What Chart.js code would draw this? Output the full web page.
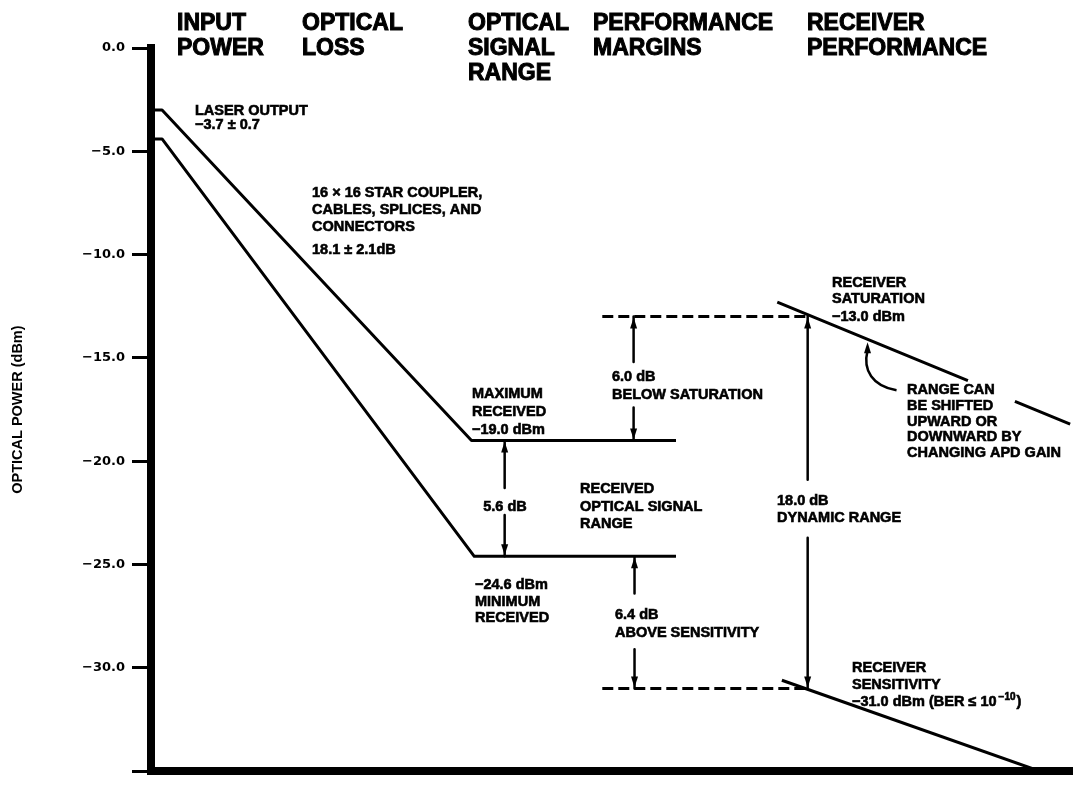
<!DOCTYPE html>
<html>
<head>
<meta charset="utf-8">
<title>Optical power budget</title>
<script src="https://cdn.jsdelivr.net/npm/chart.js@4.4.1/dist/chart.umd.min.js"></script>
<style>
  html, body { margin: 0; padding: 0; background: #fff; }
  #wrap { width: 1079px; height: 786px; }
</style>
</head>
<body>
<div id="wrap"><canvas id="budgetChart" width="1079" height="786"></canvas></div>
<script>
// x runs 0..100 along the link (left axis to right end), y is optical power in dBm
const yTicks = [0, -5, -10, -15, -20, -25, -30, -35];
const yTickLabels = ['0.0', '−5.0', '−10.0', '−15.0', '−20.0', '−25.0', '−30.0', ''];

// laser output minus link loss, best and worst case
const maxPathX = [0, 1.2, 34.8, 57.0];
const maxPathY = [-3.0, -3.0, -19.0, -19.0];
const minPathX = [0, 1.2, 35.1, 57.0];
const minPathY = [-4.4, -4.4, -24.6, -24.6];

// receiver limits (line is broken where the note sits)
const saturationX = [68.0, 88.7, 88.7, 93.8, 99.8];
const saturationY = [-12.3, -16.1, null, -17.1, -18.2];
const sensitivityX = [68.5, 96.5];
const sensitivityY = [-30.6, -35.0];

// dashed reference levels
const marginX = [49.0, 71.3];
const saturationLevel = -13.0;
const sensitivityLevel = -31.0;

// dimension arrows: position, ends, and the gap left for the label
const arrowX = [52.4, 38.4, 52.5, 71.3];
const arrowFrom = [-13.0, -19.0, -24.6, -13.0];
const arrowTo = [-19.0, -24.6, -31.0, -31.0];
const arrowGapTop = [-15.2, -21.3, -26.4, -20.9];
const arrowGapBottom = [-17.4, -22.6, -29.1, -23.7];

// where the "range can be shifted" pointer touches the saturation line
const pointerX = 77.8;

const headers = [
  { x: 177, lines: ['INPUT', 'POWER'] },
  { x: 302, lines: ['OPTICAL', 'LOSS'] },
  { x: 468, lines: ['OPTICAL', 'SIGNAL', 'RANGE'] },
  { x: 593, lines: ['PERFORMANCE', 'MARGINS'] },
  { x: 807, lines: ['RECEIVER', 'PERFORMANCE'] }
];
const headerBaselines = [30, 55, 80];

const notes = [
  { x: 195, ys: [115, 129], lines: ['LASER OUTPUT', '−3.7 ± 0.7'] },
  { x: 312, ys: [197, 214, 231, 254], lines: ['16 × 16 STAR COUPLER,', 'CABLES, SPLICES, AND', 'CONNECTORS', '18.1 ± 2.1dB'] },
  { x: 472, ys: [398, 416, 434], lines: ['MAXIMUM', 'RECEIVED', '−19.0 dBm'] },
  { x: 612, ys: [381, 399], lines: ['6.0 dB', 'BELOW SATURATION'] },
  { x: 505, ys: [511], lines: ['5.6 dB'], align: 'center' },
  { x: 580, ys: [493, 511, 528], lines: ['RECEIVED', 'OPTICAL SIGNAL', 'RANGE'] },
  { x: 475, ys: [589, 606, 622], lines: ['−24.6 dBm', 'MINIMUM', 'RECEIVED'] },
  { x: 615, ys: [619, 637], lines: ['6.4 dB', 'ABOVE SENSITIVITY'] },
  { x: 777, ys: [505, 522], lines: ['18.0 dB', 'DYNAMIC RANGE'] },
  { x: 832, ys: [287, 303, 321], lines: ['RECEIVER', 'SATURATION', '−13.0 dBm'] },
  { x: 907, ys: [394, 410, 426, 441, 457], lines: ['RANGE CAN', 'BE SHIFTED', 'UPWARD OR', 'DOWNWARD BY', 'CHANGING APD GAIN'] },
  { x: 852, ys: [672, 689, 706], lines: ['RECEIVER', 'SENSITIVITY', [{ t: '−31.0 dBm (BER ≤ 10' }, { t: '−10', sup: true }, { t: ')' }]] }
];

const pts = (xs, ys) => xs.map((x, i) => ({ x: x, y: ys[i] }));

const solid = (data, width) => ({
  data: data,
  borderColor: '#000',
  borderWidth: width,
  pointRadius: 0,
  fill: false,
  borderJoinStyle: 'round',
  borderCapStyle: 'butt'
});

const datasets = [
  solid(pts(maxPathX, maxPathY), 3),
  solid(pts(minPathX, minPathY), 3),
  solid(pts(saturationX, saturationY), 3),
  solid(pts(sensitivityX, sensitivityY), 3),
  Object.assign(solid(pts(marginX, [saturationLevel, saturationLevel]), 3), { borderDash: [11, 5] }),
  Object.assign(solid(pts(marginX, [sensitivityLevel, sensitivityLevel]), 3), { borderDash: [11, 5] })
];
arrowX.forEach((x, i) => {
  datasets.push(solid([
    { x: x, y: arrowFrom[i] },
    { x: x, y: arrowGapTop[i] },
    { x: x, y: null },
    { x: x, y: arrowGapBottom[i] },
    { x: x, y: arrowTo[i] }
  ], 2.5));
});

function arrowHead(ctx, x, y, dir) {
  // dir -1 = points up, 1 = points down
  ctx.beginPath();
  ctx.moveTo(x, y);
  ctx.lineTo(x - 3.5, y - dir * 11);
  ctx.lineTo(x + 3.5, y - dir * 11);
  ctx.closePath();
  ctx.fill();
}

function heavyText(ctx, text, x, y, stroke) {
  ctx.fillText(text, x, y);
  ctx.strokeText(text, x, y);
}

const annotationPlugin = {
  id: 'budgetNotes',
  afterDraw(chart) {
    const ctx = chart.ctx;
    const xs = chart.scales.x, ys = chart.scales.y;
    ctx.save();
    ctx.fillStyle = '#000';
    ctx.strokeStyle = '#000';
    ctx.textBaseline = 'alphabetic';

    // arrowheads
    arrowX.forEach((x, i) => {
      const px = xs.getPixelForValue(x);
      arrowHead(ctx, px, ys.getPixelForValue(arrowFrom[i]) + 1, -1);
      arrowHead(ctx, px, ys.getPixelForValue(arrowTo[i]) - 1, 1);
    });

    // curved pointer to the saturation line
    const t = (pointerX - saturationX[0]) / (saturationX[1] - saturationX[0]);
    const tipX = xs.getPixelForValue(pointerX);
    const tipY = ys.getPixelForValue(saturationY[0] + t * (saturationY[1] - saturationY[0])) + 3;
    ctx.lineWidth = 2.5;
    ctx.beginPath();
    ctx.moveTo(tipX, tipY + 8);
    ctx.bezierCurveTo(tipX - 5, tipY + 28, tipX + 5, tipY + 44, tipX + 29, tipY + 48);
    ctx.stroke();
    arrowHead(ctx, tipX, tipY, -1);

    // column headers
    ctx.font = 'bold 23px "Liberation Sans", Arial, sans-serif';
    ctx.lineWidth = 1;
    ctx.textAlign = 'left';
    headers.forEach(h => {
      h.lines.forEach((line, i) => heavyText(ctx, line, h.x, headerBaselines[i]));
    });

    // notes
    const noteFont = 'bold 14.5px "Liberation Sans", Arial, sans-serif';
    const supFont = 'bold 10px "Liberation Sans", Arial, sans-serif';
    ctx.lineWidth = 0.6;
    notes.forEach(n => {
      ctx.textAlign = n.align || 'left';
      n.lines.forEach((line, i) => {
        if (typeof line === 'string') {
          ctx.font = noteFont;
          heavyText(ctx, line, n.x, n.ys[i]);
        } else {
          let cx = n.x;
          ctx.textAlign = 'left';
          line.forEach(seg => {
            ctx.font = seg.sup ? supFont : noteFont;
            heavyText(ctx, seg.t, cx, n.ys[i] - (seg.sup ? 6 : 0));
            cx += ctx.measureText(seg.t).width + (seg.sup ? 1 : 2);
          });
        }
      });
    });
    ctx.restore();
  }
};

new Chart(document.getElementById('budgetChart'), {
  type: 'line',
  data: { datasets: datasets },
  options: {
    responsive: false,
    devicePixelRatio: 1,
    animation: false,
    layout: { padding: { top: 48, right: 7, left: 0, bottom: 0 } },
    plugins: {
      legend: { display: false },
      tooltip: { enabled: false }
    },
    elements: { line: { tension: 0 } },
    scales: {
      x: {
        type: 'linear',
        min: 0,
        max: 100,
        ticks: { display: false },
        grid: { display: false, drawTicks: false },
        border: { display: true, color: '#000', width: 8 },
        afterFit: s => { s.height = 11; }
      },
      y: {
        min: -35,
        max: 0,
        ticks: {
          stepSize: 5,
          autoSkip: false,
          padding: 7,
          color: '#000',
          font: { family: '"DejaVu Sans"', weight: 'bold', size: 13 },
          callback: v => yTickLabels[yTicks.indexOf(v)]
        },
        grid: {
          drawOnChartArea: false,
          drawTicks: true,
          tickLength: 19,
          tickWidth: 3,
          tickColor: '#000'
        },
        border: { display: true, color: '#000', width: 8 },
        title: {
          display: true,
          text: 'OPTICAL POWER (dBm)',
          color: '#000',
          font: { family: '"Liberation Sans"', weight: 'bold', size: 14.5 },
          padding: { top: 9, bottom: 0 }
        },
        afterFit: s => { s.width = 151; }
      }
    }
  },
  plugins: [annotationPlugin]
});
</script>
</body>
</html>
